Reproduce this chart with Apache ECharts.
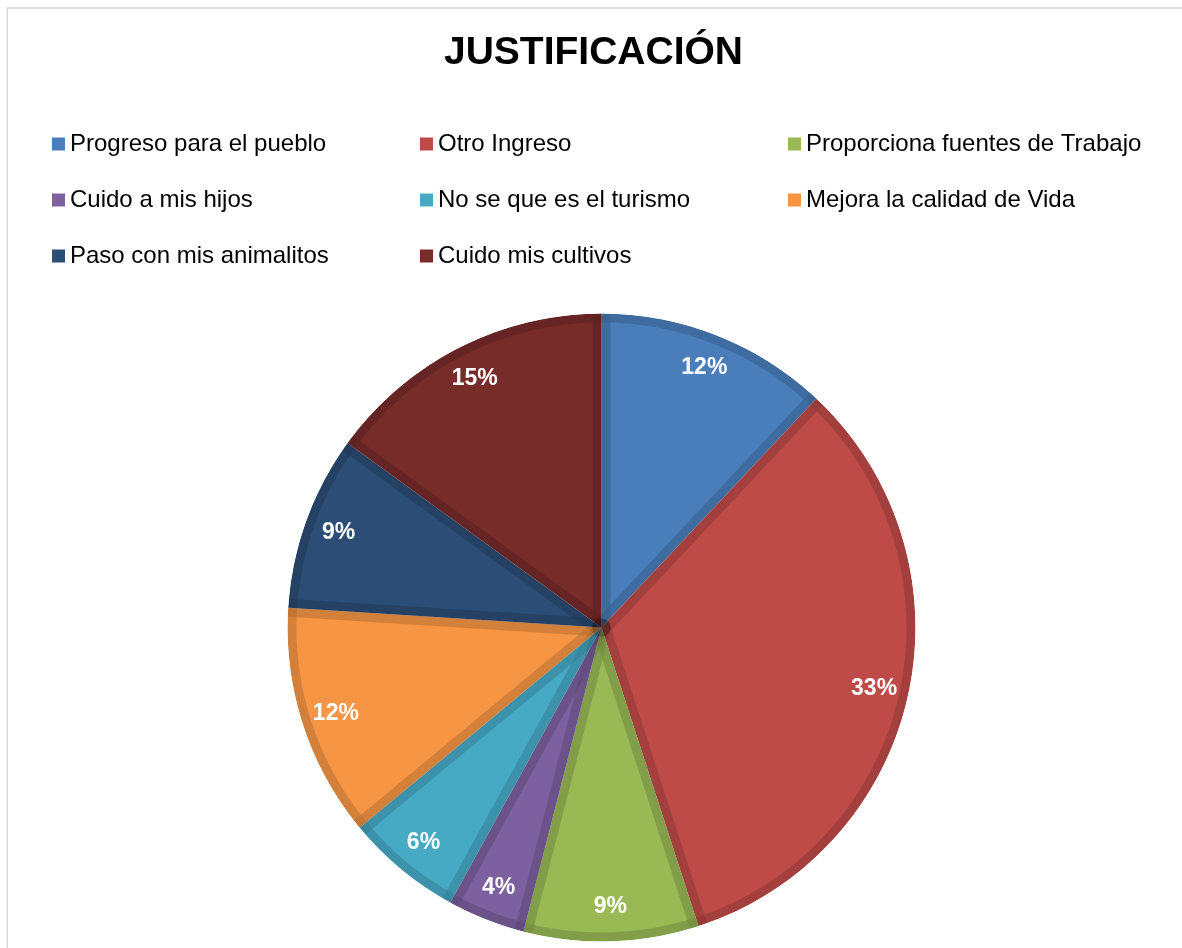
<!DOCTYPE html>
<html>
<head>
<meta charset="utf-8">
<script src="https://cdn.jsdelivr.net/npm/echarts@6/dist/echarts.min.js"></script>
<style>
  html, body { margin: 0; padding: 0; background: #fff; }
  #chart { width: 1182px; height: 948px; }
</style>
</head>
<body>
<div id="chart"></div>
<script>
// data
const titleText = 'JUSTIFICACIÓN';
const categories = [
  'Progreso para el pueblo',
  'Otro Ingreso',
  'Proporciona fuentes de Trabajo',
  'Cuido a mis hijos',
  'No se que es el turismo',
  'Mejora la calidad de Vida',
  'Paso con mis animalitos',
  'Cuido mis cultivos'
];
const values = [12, 33, 9, 4, 6, 12, 9, 15];
const colors = ['#4a7ebb', '#be4b48', '#98b954', '#7d60a0', '#46aac5', '#f69544', '#2c4d75', '#772c2a'];

const FONT = '"Liberation Sans", Arial, sans-serif';
const cx = 601.5, cy = 627.5, R = 314, band = 9;
const shade = 'rgba(0,0,0,0.07)';

const pieData = categories.map((name, i) => ({ name, value: values[i] }));

function legendCol(names, left) {
  return {
    data: names,
    orient: 'vertical',
    left: left,
    top: 131,
    padding: 0,
    icon: 'rect',
    itemWidth: 13,
    itemHeight: 13,
    itemGap: 30,
    selectedMode: false,
    textStyle: { fontFamily: FONT, fontSize: 24, color: '#000', lineHeight: 26 }
  };
}

const chart = echarts.init(document.getElementById('chart'));
chart.setOption({
  animation: false,
  color: colors,
  title: {
    text: titleText,
    left: 444,
    top: 34,
    padding: 0,
    textStyle: { fontFamily: FONT, fontSize: 39, fontWeight: 'bold', color: '#000' }
  },
  legend: [
    legendCol([categories[0], categories[3], categories[6]], 52),
    legendCol([categories[1], categories[4], categories[7]], 420),
    legendCol([categories[2], categories[5]], 788)
  ],
  graphic: [{
    type: 'rect',
    shape: { x: 7.25, y: 8, width: 1400, height: 1400 },
    style: { fill: 'none', stroke: '#d9d9d9', lineWidth: 1.5 },
    silent: true
  }],
  series: [
    {
      // main slices
      type: 'pie',
      center: [cx, cy],
      radius: [0, R],
      startAngle: 90,
      clockwise: true,
      label: { show: false },
      labelLine: { show: false },
      emphasis: { disabled: true },
      data: pieData
    },
    {
      // darker inner band along the slice edges
      type: 'pie',
      center: [cx, cy],
      radius: [0, R],
      startAngle: 90,
      silent: true,
      label: { show: false },
      labelLine: { show: false },
      emphasis: { disabled: true },
      itemStyle: { color: 'rgba(0,0,0,0)', borderColor: shade, borderWidth: band * 2, borderJoin: 'round' },
      data: pieData
    },
    {
      // extra band along the outer arc
      type: 'pie',
      center: [cx, cy],
      radius: [R - band, R],
      silent: true,
      label: { show: false },
      labelLine: { show: false },
      emphasis: { disabled: true },
      itemStyle: { color: shade },
      data: [{ name: '', value: 1 }]
    },
    {
      // hide the stroke spilling outside the pie
      type: 'pie',
      center: [cx, cy],
      radius: [R, R + 14],
      silent: true,
      label: { show: false },
      labelLine: { show: false },
      emphasis: { disabled: true },
      itemStyle: { color: '#fff' },
      data: [{ name: ' ', value: 1 }]
    },
    {
      // percent labels
      type: 'pie',
      center: [cx, cy],
      radius: [R * 0.76, R],
      startAngle: 90,
      silent: true,
      itemStyle: { color: 'rgba(0,0,0,0)' },
      emphasis: { disabled: true },
      labelLine: { show: false },
      label: {
        show: true,
        position: 'inside',
        formatter: '{c}%',
        fontFamily: FONT,
        fontSize: 23,
        fontWeight: 'bold',
        color: '#fff'
      },
      data: pieData
    }
  ]
});
</script>
</body>
</html>
